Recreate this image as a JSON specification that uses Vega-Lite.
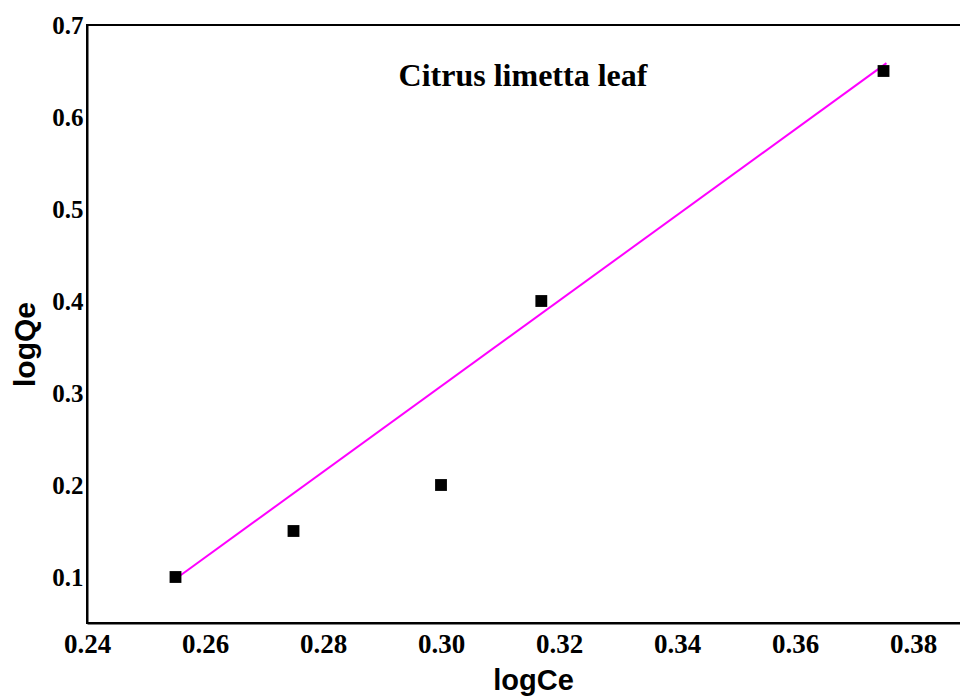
{
  "$schema": "https://vega.github.io/schema/vega-lite/v6.json",
  "width": 875,
  "height": 598,
  "autosize": {"type": "none"},
  "padding": {"left": 87, "top": 25, "right": 0, "bottom": 73},
  "background": "white",
  "config": {"view": {"stroke": "black", "strokeWidth": 2}},
  "datasets": {
    "points": [
      {"logCe": 0.255, "logQe": 0.1},
      {"logCe": 0.275, "logQe": 0.15},
      {"logCe": 0.3, "logQe": 0.2},
      {"logCe": 0.317, "logQe": 0.4},
      {"logCe": 0.375, "logQe": 0.65}
    ],
    "fit": [
      {"logCe": 0.2547, "logQe": 0.0965},
      {"logCe": 0.3755, "logQe": 0.6585}
    ],
    "label": [
      {"logCe": 0.3139, "logQe": 0.645, "text": "Citrus limetta leaf"}
    ]
  },
  "layer": [
    {
      "data": {"name": "fit"},
      "mark": {"type": "line", "color": "#FF00FF", "strokeWidth": 2},
      "encoding": {
        "x": {
          "field": "logCe", "type": "quantitative",
          "scale": {"domain": [0.24, 0.3883], "nice": false, "zero": false},
          "axis": {
            "title": "logCe",
            "values": [0.24, 0.26, 0.28, 0.30, 0.32, 0.34, 0.36, 0.38],
            "format": ".2f",
            "grid": false, "ticks": false,
            "domain": true, "domainColor": "black", "domainWidth": 2,
            "labelFont": "Liberation Serif", "labelFontWeight": "bold", "labelFontSize": 27,
            "labelColor": "black", "labelPadding": 8, "labelFlush": false,
            "titleFont": "Liberation Sans", "titleFontWeight": "bold", "titleFontSize": 29,
            "titleColor": "black", "titleX": 446, "titleY": 57, "titleBaseline": "middle", "titleAlign": "center"
          }
        },
        "y": {
          "field": "logQe", "type": "quantitative",
          "scale": {"domain": [0.05, 0.7], "nice": false, "zero": false},
          "axis": {
            "title": "logQe",
            "values": [0.1, 0.2, 0.3, 0.4, 0.5, 0.6, 0.7],
            "format": ".1f",
            "grid": false, "ticks": false,
            "domain": true, "domainColor": "black", "domainWidth": 2,
            "labelFont": "Liberation Serif", "labelFontWeight": "bold", "labelFontSize": 25,
            "labelColor": "black", "labelPadding": 4, "labelFlush": false,
            "titleFont": "Liberation Sans", "titleFontWeight": "bold", "titleFontSize": 30,
            "titleColor": "black", "titleAngle": -90, "titleX": -62, "titleY": 319,
            "titleBaseline": "middle", "titleAlign": "center"
          }
        }
      }
    },
    {
      "data": {"name": "points"},
      "mark": {"type": "point", "shape": "square", "filled": true, "color": "black", "opacity": 1, "size": 140},
      "encoding": {
        "x": {"field": "logCe", "type": "quantitative"},
        "y": {"field": "logQe", "type": "quantitative"}
      }
    },
    {
      "data": {"name": "label"},
      "mark": {"type": "text", "font": "Liberation Serif", "fontWeight": "bold", "fontSize": 32, "color": "black", "align": "center", "baseline": "middle"},
      "encoding": {
        "x": {"field": "logCe", "type": "quantitative"},
        "y": {"field": "logQe", "type": "quantitative"},
        "text": {"field": "text"}
      }
    }
  ]
}
